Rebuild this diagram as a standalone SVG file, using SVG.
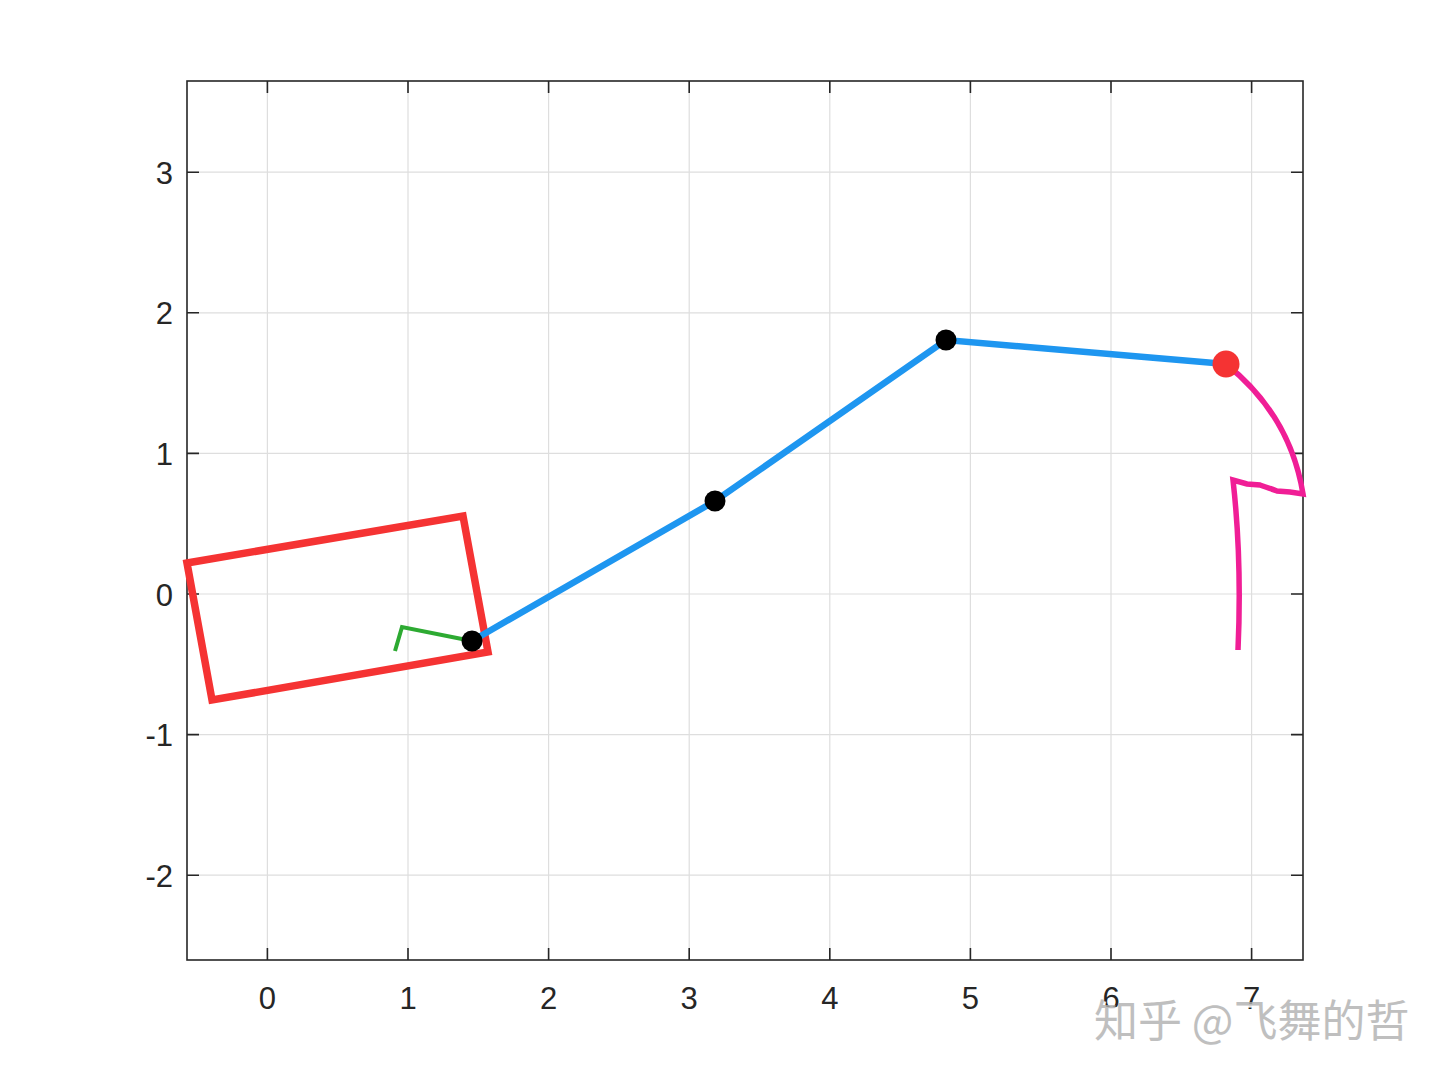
<svg xmlns="http://www.w3.org/2000/svg" width="1440" height="1080" viewBox="0 0 1440 1080">
<style>
.grid{stroke:#dedede;stroke-width:1.2;fill:none}
.axis{stroke:#262626;stroke-width:1.6;fill:none}
.tick{stroke:#262626;stroke-width:1.6}
.lbl{font-family:"Liberation Sans",Arial,sans-serif;font-size:31px;fill:#262626}
.wm{font-family:"Noto Sans CJK SC","Liberation Sans",sans-serif;font-size:44px}
</style>
<rect width="1440" height="1080" fill="#ffffff"/>
<g id="grid">
<path class="grid" d="M267.4 81V960M408 81V960M548.6 81V960M689.2 81V960M829.8 81V960M970.4 81V960M1111 81V960M1251.6 81V960"/>
<path class="grid" d="M187 172.2H1303M187 312.8H1303M187 453.4H1303M187 594H1303M187 734.6H1303M187 875.2H1303"/>
</g>
<g id="axes">
<rect class="axis" x="187" y="81" width="1116" height="879"/>
<path class="tick" d="M267.4 81v12M408 81v12M548.6 81v12M689.2 81v12M829.8 81v12M970.4 81v12M1111 81v12M1251.6 81v12"/>
<path class="tick" d="M267.4 960v-12M408 960v-12M548.6 960v-12M689.2 960v-12M829.8 960v-12M970.4 960v-12M1111 960v-12M1251.6 960v-12"/>
<path class="tick" d="M187 172.2h12M187 312.8h12M187 453.4h12M187 594h12M187 734.6h12M187 875.2h12"/>
<path class="tick" d="M1303 172.2h-12M1303 312.8h-12M1303 453.4h-12M1303 594h-12M1303 734.6h-12M1303 875.2h-12"/>
</g>
<g id="xlabels" class="lbl" text-anchor="middle">
<text x="267.4" y="1009">0</text>
<text x="408" y="1009">1</text>
<text x="548.6" y="1009">2</text>
<text x="689.2" y="1009">3</text>
<text x="829.8" y="1009">4</text>
<text x="970.4" y="1009">5</text>
<text x="1111" y="1009">6</text>
<text x="1251.6" y="1009">7</text>
</g>
<g id="ylabels" class="lbl" text-anchor="end">
<text x="173" y="184">3</text>
<text x="173" y="324">2</text>
<text x="173" y="465">1</text>
<text x="173" y="606">0</text>
<text x="173" y="746">-1</text>
<text x="173" y="887">-2</text>
</g>
<g id="connectors">
<polygon id="box" points="187,563 463,516 488,652 212,700" fill="none" stroke="#F53333" stroke-width="7.5" stroke-linejoin="miter"/>
<polyline id="arm" points="472,641 715,501 946,340 1226,364" fill="none" stroke="#1E96F0" stroke-width="6.5"/>
<polyline id="green" points="395,651 402,627 472,641" fill="none" stroke="#2DAA32" stroke-width="4"/>
<path id="pink" d="M1226,364 Q1290,415 1303,494 L1290,492 L1277,491 Q1266,487 1260,485 L1247,484 L1233,480 Q1242,560 1238,650" fill="none" stroke="#F01E96" stroke-width="5.5" stroke-linejoin="miter"/>
</g>
<g id="joints">
<circle cx="472" cy="641" r="10.5" fill="#000"/>
<circle cx="715" cy="501" r="10.5" fill="#000"/>
<circle cx="946" cy="340" r="10.5" fill="#000"/>
<circle cx="1226" cy="364" r="13.5" fill="#F53333"/>
</g>
<g id="watermark">
<text class="wm" x="1096" y="1039" fill="#ffffff" opacity="0.9">知乎 @飞舞的哲</text>
<text class="wm" x="1094" y="1037" fill="#b0b0b0" opacity="0.8">知乎 @飞舞的哲</text>
</g>
</svg>
